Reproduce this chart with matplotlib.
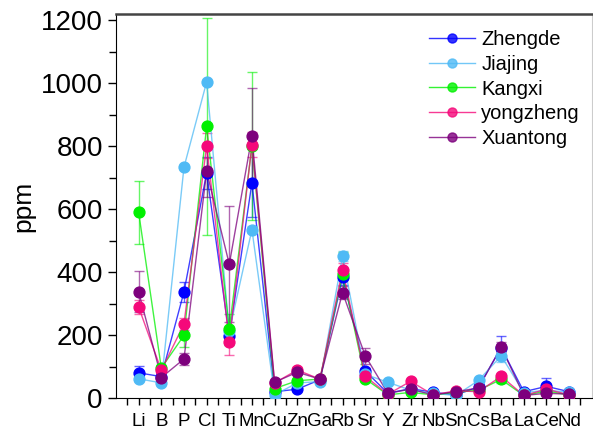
import numpy as np
import matplotlib
matplotlib.use("Agg")
import matplotlib.pyplot as plt
from matplotlib.lines import Line2D

plt.rcParams['font.family'] = ['Liberation Sans', 'DejaVu Sans']

elements = ['Li', 'B', 'P', 'Cl', 'Ti', 'Mn', 'Cu', 'Zn', 'Ga', 'Rb',
            'Sr', 'Y', 'Zr', 'Nb', 'Sn', 'Cs', 'Ba', 'La', 'Ce', 'Nd']

# mean concentrations (ppm) and standard deviations per period
zhengde = [80, 68, 337, 715, 197, 684, 20, 28, 58, 385,
           86, 15, 30, 18, 10, 35, 160, 20, 37, 20]
zhengde_err = [22, 10, 33, 50, 20, 110, 5, 5, 5, 25,
               10, 3, 5, 3, 3, 8, 37, 4, 25, 4]

jiajing = [61, 48, 733, 1004, 212, 535, 10, 48, 52, 451,
           75, 50, 25, 15, 8, 56, 134, 17, 25, 18]
jiajing_err = [8, 5, 0, 0, 10, 10, 3, 3, 3, 15,
               5, 3, 3, 2, 2, 5, 20, 3, 5, 2]

kangxi = [590, 95, 199, 863, 218, 801, 30, 55, 60, 395,
          61, 10, 18, 10, 18, 25, 59, 8, 22, 10]
kangxi_err = [100, 10, 36, 345, 50, 235, 5, 5, 5, 70,
              8, 3, 5, 2, 3, 5, 10, 2, 5, 2]

yongzheng = [289, 88, 235, 801, 178, 805, 48, 89, 60, 408,
             69, 12, 53, 10, 23, 20, 69, 8, 28, 10]
yongzheng_err = [22, 8, 20, 40, 40, 40, 5, 8, 5, 20,
                 8, 2, 5, 2, 3, 3, 8, 2, 5, 2]

xuantong = [337, 65, 124, 720, 425, 831, 50, 82, 60, 335,
            134, 15, 28, 10, 20, 32, 162, 8, 15, 12]
xuantong_err = [65, 8, 20, 80, 185, 155, 5, 8, 5, 20,
                25, 3, 5, 2, 3, 5, 15, 2, 4, 2]

series = [
    ('Zhengde', zhengde, zhengde_err, '#0000ff'),
    ('Jiajing', jiajing, jiajing_err, '#4fbaf5'),
    ('Kangxi', kangxi, kangxi_err, '#00f000'),
    ('yongzheng', yongzheng, yongzheng_err, '#f5087a'),
    ('Xuantong', xuantong, xuantong_err, '#7d007d'),
]

fig = plt.figure(figsize=(5.93, 4.30), dpi=100)
ax = fig.add_axes([0.1956, 0.0744, 0.8024, 0.893])

x = np.arange(len(elements))
handles = []
for name, vals, errs, col in series:
    ax.errorbar(x, vals, yerr=errs, fmt='none', ecolor=col, elinewidth=1,
                capsize=3.5, capthick=1, alpha=0.6, zorder=2)
    ax.plot(x, vals, '-', color=col, lw=1, alpha=0.75, zorder=3)
    ax.plot(x, vals, 'o', color=col, ms=7.8, mec=col, zorder=4)
    handles.append(Line2D([0], [0], color=col, lw=1, alpha=0.8,
                          marker='o', ms=6.5, mfc=col, mec=col, label=name))

ax.set_xlim(-1, 20)
ax.set_ylim(0, 1220)
ax.set_xticks(x)
ax.set_xticklabels(elements, fontsize=13.5)
ax.set_xticks(np.arange(-0.5, 20, 1), minor=True)
ax.set_yticks(np.arange(0, 1201, 200))
ax.set_yticks(np.arange(100, 1200, 200), minor=True)
ax.tick_params(axis='y', which='major', labelsize=20, length=6, width=1)
ax.tick_params(axis='y', which='minor', length=5, width=1)
ax.tick_params(axis='x', which='both', length=5, width=1, pad=6)
ax.set_ylabel('ppm', fontsize=19, labelpad=4)

ax.spines['top'].set_color('#444444')
ax.spines['top'].set_linewidth(1.8)
ax.spines['right'].set_color('#cccccc')
ax.spines['right'].set_linewidth(0.8)

ax.legend(handles=handles, loc='upper right', bbox_to_anchor=(1.013, 1.005),
          frameon=False, fontsize=14.5, handlelength=2.3, handletextpad=0.3,
          labelspacing=0.28)

fig.savefig('out.png', dpi=100)
